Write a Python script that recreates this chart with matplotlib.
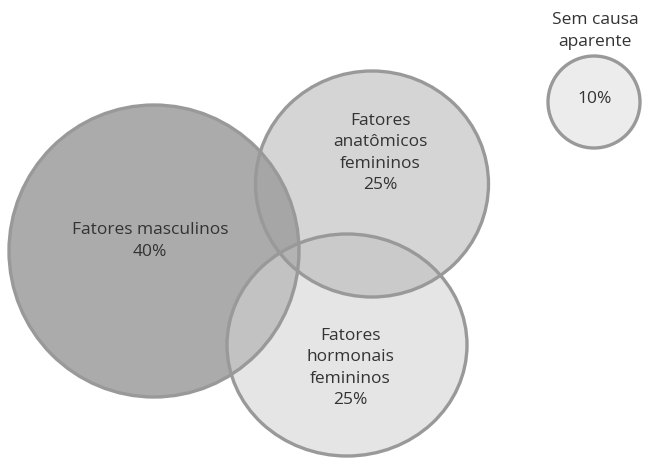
import numpy as np
import matplotlib.pyplot as plt
from matplotlib.patches import Ellipse, Polygon

# causes of infertility and their share
labels = ['Fatores masculinos', 'Fatores\nanatômicos\nfemininos',
          'Fatores\nhormonais\nfemininos', 'Sem causa\naparente']
shares = [40, 25, 25, 10]

# layout in pixel units (x, y from top-left), width, height
centers = [(154, 252), (372, 185), (347, 346), (594, 103)]
sizes = [(290, 292), (233, 226), (240, 222), (92, 92)]
fills = ['#ababab', '#d5d5d5', '#e5e5e5', '#ececec']
# shades of the overlapping regions
overlaps = {(0, 1): '#a6a6a6', (0, 2): '#c2c2c2', (1, 2): '#cacaca',
            (0, 1, 2): '#b3b3b3'}

plt.rcParams['font.family'] = ['Open Sans', 'DejaVu Sans']


def intersection(ids, n=1500):
    # outline of the region shared by the given shapes (convex)
    pts = []
    t = np.linspace(0, 2 * np.pi, n, endpoint=False)
    for i in ids:
        (cx, cy), (w, h) = centers[i], sizes[i]
        p = np.c_[cx + w / 2 * np.cos(t), cy + h / 2 * np.sin(t)]
        keep = np.ones(len(p), bool)
        for j in ids:
            if j != i:
                (jx, jy), (jw, jh) = centers[j], sizes[j]
                keep &= (((p[:, 0] - jx) / (jw / 2)) ** 2 +
                         ((p[:, 1] - jy) / (jh / 2)) ** 2) <= 1
        pts.append(p[keep])
    pts = np.vstack(pts)
    c = pts.mean(axis=0)
    ang = np.arctan2(pts[:, 1] - c[1], pts[:, 0] - c[0])
    return pts[np.argsort(ang)]


fig = plt.figure(figsize=(6.52, 4.64), dpi=100)
ax = fig.add_axes([0, 0, 1, 1])
ax.set_xlim(0, 652)
ax.set_ylim(464, 0)
ax.set_aspect('equal')
ax.axis('off')

for c, (w, h), f in zip(centers, sizes, fills):
    ax.add_patch(Ellipse(c, w, h, facecolor=f, edgecolor='none', zorder=1))

for k, (ids, col) in enumerate(overlaps.items()):
    ax.add_patch(Polygon(intersection(ids), closed=True, facecolor=col,
                         edgecolor='none', zorder=2 + k))

for c, (w, h) in zip(centers, sizes):
    ax.add_patch(Ellipse(c, w, h, facecolor='none', edgecolor='#999999',
                         lw=2.4, zorder=10))

txt = dict(ha='center', va='center', fontsize=12.5, color='#333333',
           linespacing=1.45, zorder=11)
ax.text(150, 241, f'{labels[0]}\n{shares[0]}%', **txt)
ax.text(380, 153, f'{labels[1]}\n{shares[1]}%', **txt)
ax.text(350, 368, f'{labels[2]}\n{shares[2]}%', **txt)
ax.text(595, 31, labels[3], **txt)
ax.text(595, 99, f'{shares[3]}%', **txt)

fig.savefig('out.png', dpi=100, facecolor='white')
